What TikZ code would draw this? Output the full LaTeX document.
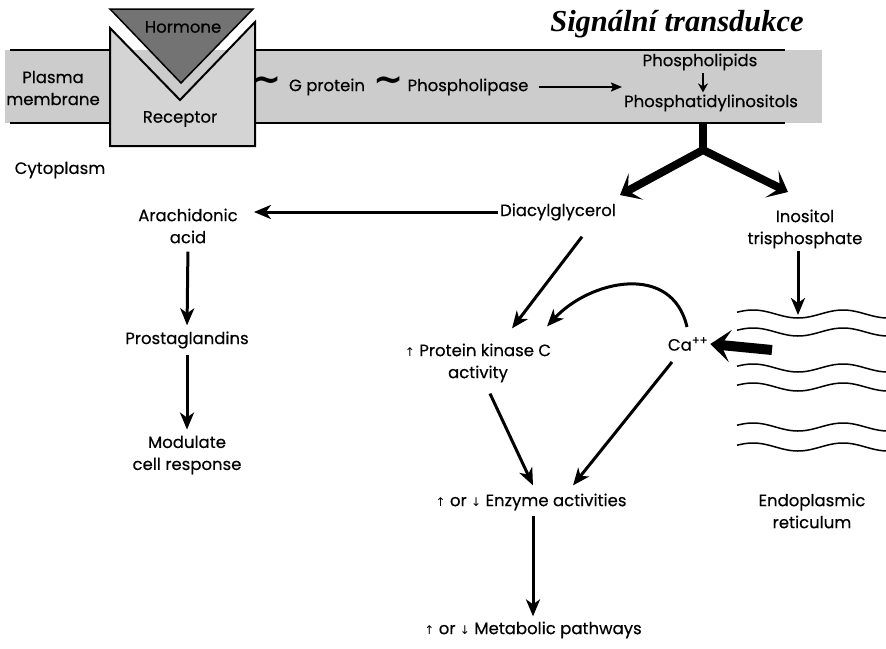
\documentclass[tikz,border=0pt]{standalone}
\usepackage{fontspec}
\setmainfont{Poppins}[FakeBold=0.4]
\newfontfamily\titlefont{Liberation Serif}
\newfontfamily\symfont{DejaVu Sans}
\usetikzlibrary{arrows.meta, positioning, calc}
\newcommand{\uparr}{{\symfont\fontsize{12}{12}\selectfont ↑}}
\newcommand{\downarr}{{\symfont\fontsize{12}{12}\selectfont ↓}}
\newcommand{\wave}{{\symfont\bfseries\fontsize{36}{36}\selectfont\textasciitilde}}

\begin{document}
\begin{tikzpicture}[x=1pt, y=-1pt,
    every node/.style={font=\fontsize{16.5}{22}\selectfont, inner sep=2pt, align=center},
    membrane/.style={fill=black!20},
    memline/.style={line width=2pt},
    receptor/.style={fill=black!17, draw, line width=2pt},
    hormone/.style={fill=black!55, draw, line width=1.5pt},
    arr/.style={line width=3pt, -{Stealth[length=17pt, width=14pt, inset=5pt]}},
    thinarr/.style={line width=1.8pt, -{Stealth[length=11pt, width=9pt, inset=2pt]}},
    fat/.style={line width=8pt, line join=miter},
    fatarr/.style={line width=10pt, -{Stealth[length=20pt, width=32pt, inset=9pt]}},
    erline/.style={line width=1.5pt}]
    \useasboundingbox (0,0) rectangle (886,648);

    \fill[membrane] (5,50) rectangle (822,123);
    \draw[memline] (10,50) -- (110,50) (255,50) -- (785,50);
    \draw[memline] (10,123) -- (110,123) (255,123) -- (785,123);
    \filldraw[receptor] (110,28) -- (180,100) -- (255,22) -- (255,146) -- (110,146) -- cycle;
    \filldraw[hormone] (110,9) -- (253,9) -- (181,83) -- cycle;

    \node (title) at (677,24) {\titlefont\bfseries\itshape\fontsize{30.5}{32}\selectfont Signální transdukce};
    \node (hormtxt) at (183,27) {Hormone};
    \node (recep) at (180,119) {Receptor};
    \node (plasma) at (53,88) {Plasma\\membrane};
    \node (tilde1) at (267,84) {\wave};
    \node (gprot) at (327,87) {G protein};
    \node (tilde2) at (389,84) {\wave};
    \node (plipase) at (468,87) {Phospholipase};
    \node (plipids) at (700,62) {Phospholipids};
    \node (pinos) at (711,103) {Phosphatidylinositols};
    \coordinate (plend) at (622,87);

    \coordinate (stem) at (703,123);
    \coordinate (fork) at (703,150);
    \coordinate (dagtip) at (620,195);
    \coordinate (iptip) at (788,192);

    \node (cyto) at (60,170) {Cytoplasm};
    \node (arach) at (188,226) {Arachidonic\\acid};
    \node (diacyl) at (558,212) {Diacylglycerol};
    \node (inos) at (805,229) {Inositol\\trisphosphate};
    \node (prosta) at (187,340) {Prostaglandins};
    \node (modul) at (187,455) {Modulate\\cell response};
    \node (pkc) at (478,363) {\uparr\ Protein kinase C\\activity};
    \node (ca) at (688,344) {Ca\textsuperscript{++}};
    \node (enz) at (531,502) {\uparr\ or \downarr\ Enzyme activities};
    \node (metab) at (533,630) {\uparr\ or \downarr\ Metabolic pathways};
    \node (er) at (812,511) {Endoplasmic\\reticulum};

    \foreach \b in {314,332,368,387,427,447}
        \draw[erline] plot[domain=737:886, samples=80, smooth] (\x, {\b - 4*cos(4*(\x-753))});
    \coordinate (ertop) at (798,315);
    \coordinate (erout) at (772,350);

    \draw[thinarr] (plipase.east) ++(8pt,0) -- (plend);
    \draw[line width=2.2pt, -{Stealth[length=9pt, width=10pt]}] (plipids.south -| stem) -- (pinos.north -| stem);
    \draw[fat] (stem) -- (fork);
    \draw[fat, {Stealth[length=18pt, width=30pt, inset=9pt]}-{Stealth[length=18pt, width=30pt, inset=9pt]}] (dagtip) -- (fork) -- (iptip);

    \draw[arr] (diacyl.west) -- (diacyl.west -| arach.east) [shorten >=14pt];
    \draw[arr, shorten <=6pt, shorten >=4pt] (arach.south) -- (prosta.north);
    \draw[arr, shorten <=4pt, shorten >=4pt] (prosta.south) -- (modul.north);
    \draw[arr] ([xshift=24pt, yshift=-14pt]diacyl.south) -- ([xshift=34pt, yshift=13pt]pkc.north);
    \draw[arr] ([xshift=-1pt, yshift=8pt]ca.north) .. controls (672,262) and (590,280) .. ([xshift=69pt, yshift=15pt]pkc.north);
    \draw[arr] ([xshift=12pt, yshift=-9pt]pkc.south) -- ([xshift=2pt, yshift=6pt]enz.north);
    \draw[arr] ([xshift=-16pt, yshift=-9pt]ca.south) -- ([xshift=42pt, yshift=6pt]enz.north);
    \draw[arr, shorten <=3pt, shorten >=3pt] (enz.south -| metab) -- (metab.north);
    \draw[arr] (ertop |- inos.south) -- (ertop);
    \draw[fatarr] (erout) -- (ca.east);
\end{tikzpicture}
\end{document}
